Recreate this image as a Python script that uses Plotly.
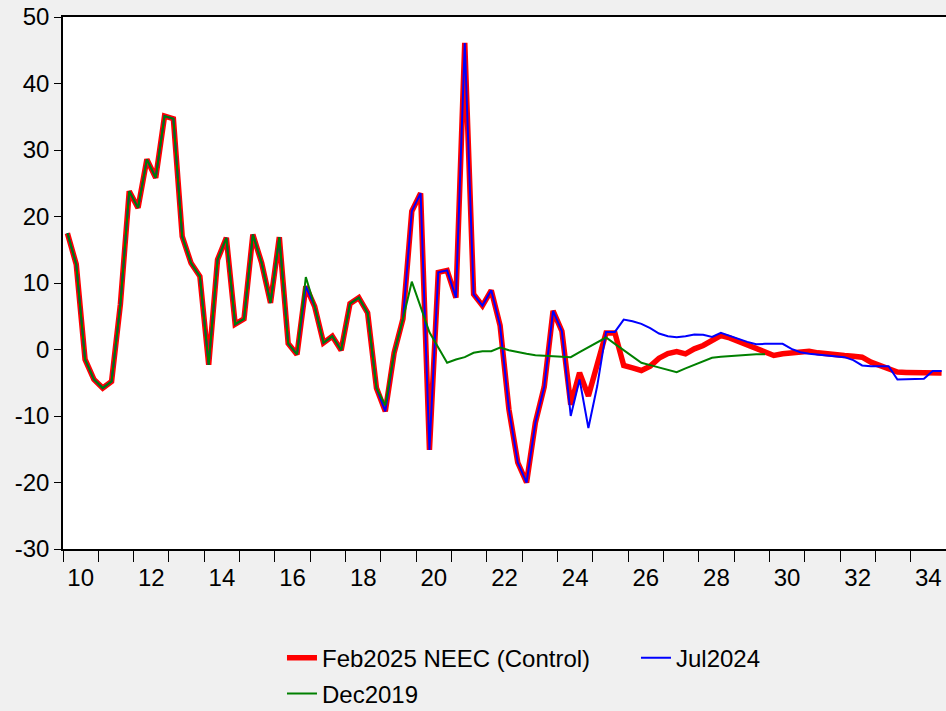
import plotly.graph_objects as go

# quarterly observations, 2010Q1 .. 2034Q4
start_year = 2010
n_quarters = 100
quarter_x = [start_year + (i + 0.5) / 4 for i in range(n_quarters)]

history = [17.5, 12.8, -1.5, -4.5, -5.8, -4.8, 6.8, 23.8, 21.3, 28.6,
           25.8, 35.1, 34.7, 17.0, 13.0, 11.0, -2.3, 13.5, 16.8, 3.8,
           4.6, 17.3, 13.0, 7.0, 16.9, 0.9, -0.75, 9.5, 6.5, 1.0,
           2.0, -0.1, 6.9, 7.8, 5.5, -5.8, -9.3, -0.5, 4.6, 20.8,
           23.5, -15.1, 11.6, 11.9, 7.8, 46.1, 8.3, 6.6, 8.9, 3.6,
           -9.0, -17.0, -20.0, -11.0, -5.6, 5.8, 2.75]

feb2025_fc = [-8.3, -3.5, -7.0, -2.25, 2.5, 2.5, -2.4, -2.75, -3.15, -2.5,
              -1.3, -0.6, -0.3, -0.65, 0.1, 0.6, 1.25, 2.1, 1.75, 1.25,
              0.6, 0.1, -0.4, -0.9, -0.65, -0.5, -0.35, -0.25, -0.5, -0.7,
              -0.75, -0.9, -1.0, -1.15, -1.9, -2.35, -2.75, -3.4, -3.45, -3.45,
              -3.5, -3.5, -3.55]

jul2024_fc = [-10.0, -4.5, -11.8, -5.5, 2.65, 2.65, 4.5, 4.25, 3.85, 3.2,
              2.4, 2.0, 1.85, 2.0, 2.25, 2.2, 1.9, 2.5, 2.1, 1.6,
              1.15, 0.8, 0.85, 0.85, 0.85, 0.1, -0.4, -0.65, -0.8, -0.9,
              -1.0, -1.15, -1.6, -2.4, -2.5, -2.5, -2.5, -4.5, -4.5, -4.45,
              -4.4, -3.25, -3.25]

# Dec2019 vintage: revised history to 2019Q3, forecast 2019Q4 .. 2029Q4
dec2019_hist_rev = {27: 10.9, 36: -8.4}
dec2019_fc = [10.2, 6.4, 2.6, 0.3, -2.0, -1.5, -1.15, -0.5, -0.25, -0.25,
              0.3, -0.1, -0.4, -0.65, -0.85, -0.9, -0.95, -1.05, -1.15, -0.4,
              0.35, 1.1, 1.8, 0.85, -0.1, -1.05, -2.0, -2.35, -2.7, -3.05,
              -3.4, -2.85, -2.3, -1.8, -1.25, -1.1, -1.0, -0.85, -0.75, -0.7,
              -0.7]

feb2025 = history + feb2025_fc
jul2024 = history + jul2024_fc
dec2019 = history[:39] + dec2019_fc
for k, v in dec2019_hist_rev.items():
    dec2019[k] = v

year_ticks = list(range(2010, 2035, 2))
year_labels = [str(y)[2:] for y in year_ticks]
y_ticks = list(range(-30, 51, 10))
y_labels = [str(v) for v in y_ticks]

fig = go.Figure()
fig.add_trace(go.Scatter(x=quarter_x[:len(feb2025)], y=feb2025, mode='lines',
                         name='Feb2025 NEEC (Control)', line=dict(color='#FF0000', width=5.5),
                         legend='legend'))
fig.add_trace(go.Scatter(x=quarter_x[:len(jul2024)], y=jul2024, mode='lines',
                         name='Jul2024', line=dict(color='#0000FF', width=2),
                         legend='legend'))
fig.add_trace(go.Scatter(x=quarter_x[:len(dec2019)], y=dec2019, mode='lines',
                         name='Dec2019', line=dict(color='#008000', width=2),
                         legend='legend2'))

fig.update_layout(
    width=946, height=711,
    margin=dict(l=63, r=0, t=17, b=162, autoexpand=False),
    paper_bgcolor='#F0F0F0',
    plot_bgcolor='white',
    font=dict(family='Arial, Liberation Sans', size=24, color='black'),
    legend=dict(orientation='h', x=0.248, xanchor='left', y=-0.205, yanchor='middle',
                bgcolor='rgba(0,0,0,0)', entrywidth=309, font=dict(size=24)),
    legend2=dict(orientation='h', x=0.248, xanchor='left', y=-0.2726, yanchor='middle',
                 bgcolor='rgba(0,0,0,0)', font=dict(size=24)),
)
fig.update_xaxes(range=[2010, 2035], showgrid=False, zeroline=False,
                 showline=True, linecolor='black', linewidth=1.5, mirror=True,
                 tickmode='array', tickvals=[y + 0.5 for y in year_ticks], ticktext=year_labels,
                 ticks='outside', ticklen=6, tickcolor='rgba(0,0,0,0)',
                 minor=dict(tick0=2010, dtick=1, ticks='outside', ticklen=11,
                            tickcolor='black', tickwidth=1, showgrid=False))
fig.update_yaxes(range=[-30, 50], showgrid=False, zeroline=False,
                 showline=True, linecolor='black', linewidth=1.5, mirror=True,
                 tickmode='array', tickvals=y_ticks, ticktext=y_labels,
                 ticks='outside', ticklen=7, tickcolor='black')

# drop the browser's default 8px body margin so the figure fills the window
fig.write_html("out.html", config={'displayModeBar': False},
               post_script="document.body.style.margin='0px';")
